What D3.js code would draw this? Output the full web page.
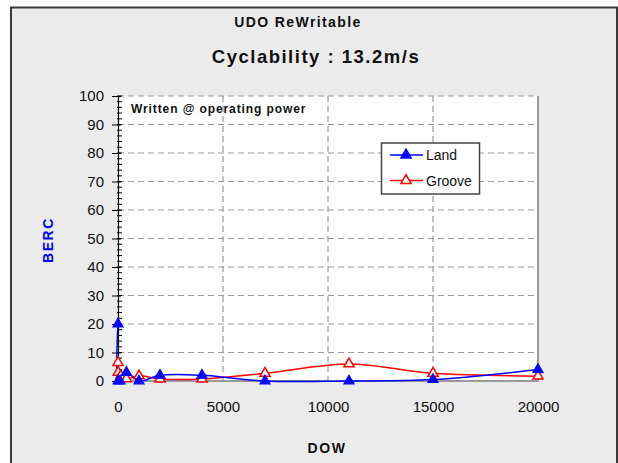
<!DOCTYPE html>
<html>
<head>
<meta charset="utf-8">
<script src="https://cdn.jsdelivr.net/npm/d3@7"></script>
<style>
html,body{margin:0;padding:0;background:#fff;}
svg{display:block;font-family:"Liberation Sans",Arial,sans-serif;}
</style>
</head>
<body>
<svg id="chart" width="618" height="463"></svg>
<script>
// ---- data ----
const landDOW   = [0, 10, 100, 400, 1000, 2000, 4000, 7000, 11000, 15000, 20000];
const landBERC  = [20, 0, 0, 3, 0, 2, 2, 0, 0, 0.5, 4];
const grooveDOW = [0, 10, 130, 400, 1000, 2000, 4000, 7000, 11000, 15000, 20000];
const grooveBERC= [6.5, 3, 1.8, 0.8, 1.8, 0.7, 0.7, 2.7, 6, 2.7, 1.7];
const xTicks = [0, 5000, 10000, 15000, 20000];
const yTicks = [0, 10, 20, 30, 40, 50, 60, 70, 80, 90, 100];
const yMinor = d3.range(0, 101, 2);
const seriesNames = ["Land", "Groove"];

const svg = d3.select("#chart");

// frame
svg.append("rect").attr("x", 11).attr("y", 7.5).attr("width", 606).attr("height", 470)
  .attr("fill", "#ebebeb").attr("stroke", "#3a3a3a").attr("stroke-width", 2);

const x = d3.scaleLinear().domain([0, 20000]).range([118, 538]);
const y = d3.scaleLinear().domain([0, 100]).range([381, 96]);

// plot area
svg.append("rect").attr("x", x(0)).attr("y", y(100)).attr("width", x(20000) - x(0))
  .attr("height", y(0) - y(100)).attr("fill", "#fff");

// grid
const grid = svg.append("g").attr("stroke", "#9a9a9a").attr("stroke-width", 1.2)
  .attr("stroke-dasharray", "6,4");
grid.selectAll("line.h").data(yTicks.filter(d => d > 0)).join("line")
  .attr("x1", x(0)).attr("x2", x(20000)).attr("y1", d => y(d)).attr("y2", d => y(d));
grid.selectAll("line.v").data(xTicks.filter(d => d > 0 && d < 20000)).join("line")
  .attr("y1", y(100)).attr("y2", y(0)).attr("x1", d => x(d)).attr("x2", d => x(d));

// plot border right & bottom
svg.append("path").attr("d", `M${x(20000)},${y(100)}V${y(0)}H${x(0)}`)
  .attr("fill", "none").attr("stroke", "#9a9a9a").attr("stroke-width", 2);

// y axis
const yAxis = d3.axisLeft(y).tickValues(yTicks).tickSize(6).tickPadding(8);
const gy = svg.append("g").attr("transform", `translate(${x(0)},0)`).call(yAxis);
gy.select(".domain").attr("stroke", "#000").attr("stroke-width", 1.2);
gy.selectAll(".tick line").attr("stroke", "#000").attr("x2", -6).attr("x1", 3);
gy.selectAll(".tick text").attr("font-size", 15).attr("fill", "#111")
  .attr("font-family", "Liberation Sans, Arial, sans-serif");
gy.selectAll("line.minor").data(yMinor).join("line").attr("class", "minor")
  .attr("x1", -1).attr("x2", 4).attr("y1", d => y(d)).attr("y2", d => y(d))
  .attr("stroke", "#000").attr("stroke-width", 1);

// x axis labels
const xAxis = d3.axisBottom(x).tickValues(xTicks).tickSize(0).tickPadding(20)
  .tickFormat(d3.format("d"));
const gx = svg.append("g").attr("transform", `translate(0,${y(0)})`).call(xAxis);
gx.select(".domain").remove();
gx.selectAll(".tick text").attr("font-size", 15).attr("fill", "#111")
  .attr("font-family", "Liberation Sans, Arial, sans-serif");

// lines
const line = d3.line().x(d => x(d[0])).y(d => y(d[1])).curve(d3.curveCatmullRom.alpha(0.5));
const land = landDOW.map((d, i) => [d, landBERC[i]]);
const groove = grooveDOW.map((d, i) => [d, grooveBERC[i]]);
const tri = d3.symbol().type(d3.symbolTriangle).size(44);

svg.append("path").datum(groove).attr("d", line).attr("fill", "none")
  .attr("stroke", "#ff0000").attr("stroke-width", 1.5);
svg.append("path").datum(land).attr("d", line).attr("fill", "none")
  .attr("stroke", "#0000ff").attr("stroke-width", 1.5);

svg.append("g").selectAll("path").data(groove).join("path").attr("d", tri)
  .attr("transform", d => `translate(${x(d[0])},${y(d[1])})`)
  .attr("fill", "#fff").attr("stroke", "#ff0000").attr("stroke-width", 1.5);
svg.append("g").selectAll("path").data(land).join("path").attr("d", tri)
  .attr("transform", d => `translate(${x(d[0])},${y(d[1])})`)
  .attr("fill", "#0000ff").attr("stroke", "#0000ff").attr("stroke-width", 1.2);

// legend
const lg = svg.append("g");
lg.append("rect").attr("x", 381.5).attr("y", 143).attr("width", 98).attr("height", 51)
  .attr("fill", "#fff").attr("stroke", "#444").attr("stroke-width", 1.5);
const legendColors = ["#0000ff", "#ff0000"];
const legendFill = ["#0000ff", "#fff"];
seriesNames.forEach((n, i) => {
  const yy = 155 + i * 25.5;
  lg.append("line").attr("x1", 390).attr("x2", 423).attr("y1", yy).attr("y2", yy)
    .attr("stroke", legendColors[i]).attr("stroke-width", 1.5);
  lg.append("path").attr("d", tri).attr("transform", `translate(406,${yy})`)
    .attr("fill", legendFill[i]).attr("stroke", legendColors[i]).attr("stroke-width", 1.5);
  lg.append("text").attr("x", 426).attr("y", yy + 5).text(n)
    .attr("font-size", 14).attr("fill", "#111");
});

// titles
svg.append("text").attr("x", 298).attr("y", 27).attr("text-anchor", "middle")
  .attr("font-size", 14).attr("font-weight", "bold").attr("letter-spacing", 1.4)
  .attr("fill", "#111").text("UDO ReWritable");
svg.append("text").attr("x", 316).attr("y", 63).attr("text-anchor", "middle")
  .attr("font-size", 18.5).attr("font-weight", "bold").attr("letter-spacing", 1.5)
  .attr("fill", "#111").text("Cyclability : 13.2m/s");
svg.append("text").attr("x", 131).attr("y", 112.5)
  .attr("font-size", 12).attr("font-weight", "bold").attr("letter-spacing", 0.9)
  .attr("fill", "#111").text("Written @ operating power");
svg.append("text").attr("transform", "translate(53,240) rotate(-90)").attr("text-anchor", "middle")
  .attr("font-size", 14).attr("font-weight", "bold").attr("letter-spacing", 1.6)
  .attr("fill", "#0000ff").text("BERC");
svg.append("text").attr("x", 327).attr("y", 453).attr("text-anchor", "middle")
  .attr("font-size", 14).attr("font-weight", "bold").attr("letter-spacing", 1.6)
  .attr("fill", "#111").text("DOW");
</script>
</body>
</html>
